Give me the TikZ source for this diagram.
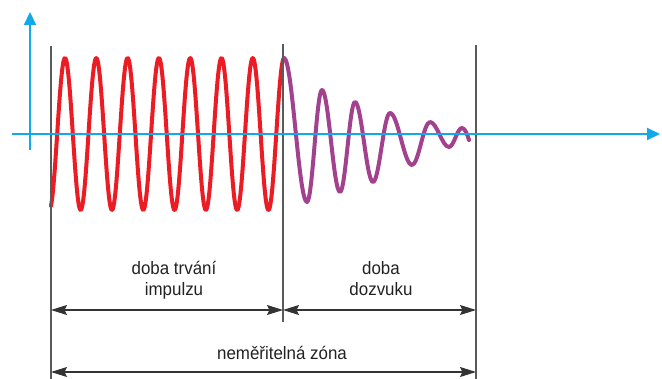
\documentclass[tikz,border=0pt]{standalone}
\usepackage{fontspec}
\setmainfont[FakeStretch=0.94]{Liberation Sans}
\usetikzlibrary{arrows.meta}
\definecolor{axisblue}{HTML}{12A9E8}
\definecolor{pulsered}{HTML}{EC1C24}
\definecolor{decaypurple}{HTML}{A2418E}
\definecolor{guide}{HTML}{5A5A5A}
\definecolor{dimline}{HTML}{333333}
\definecolor{txt}{HTML}{222222}
\begin{document}
\begin{tikzpicture}[x=1pt,y=-1pt,
  axis/.style={axisblue, line width=2pt, -{Triangle[length=13pt,width=12pt]}},
  guideline/.style={guide, line width=1.3pt},
  dimarrow/.style={dimline, line width=1.1pt,
    {Stealth[length=16pt,width=10pt,inset=2.5pt]}-{Stealth[length=16pt,width=10pt,inset=2.5pt]}},
  wave/.style={line width=4pt, line join=round, line cap=round},
  lbl/.style={anchor=base, inner sep=0pt, text=txt, font=\fontsize{18}{21}\selectfont}]
\useasboundingbox (0,0) rectangle (662,379);

% waves
\draw[wave, pulsered] plot[domain=51:284, samples=400] (\x, {134-76*cos(11.5016*(\x-65))});
\draw[wave, decaypurple] (284,58)
  .. controls +(8.37,0) and +(-8.37,0) .. (307,202)
  .. controls +(5.46,0) and +(-5.46,0) .. (322,90)
  .. controls +(6.55,0) and +(-6.55,0) .. (340,192)
  .. controls +(5.46,0) and +(-5.46,0) .. (355,102)
  .. controls +(6.55,0) and +(-6.55,0) .. (373,182)
  .. controls +(6.19,0) and +(-6.19,0) .. (390,113)
  .. controls +(8.01,0) and +(-8.01,0) .. (412,165)
  .. controls +(6.55,0) and +(-6.55,0) .. (430,122)
  .. controls +(6.92,0) and +(-6.92,0) .. (449,147)
  .. controls +(4.73,0) and +(-4.73,0) .. (462,128)
  .. controls +(3,0) and +(-1.5,-5) .. (469,140);

% guide lines
\coordinate (gLt) at (51,46);  \coordinate (gLb) at (51,379);
\coordinate (gMt) at (283,44); \coordinate (gMb) at (283,322);
\coordinate (gRt) at (476,45); \coordinate (gRb) at (476,379);
\draw[guideline] (gLt) -- (gLb);
\draw[guideline] (gMt) -- (gMb);
\draw[guideline] (gRt) -- (gRb);

% axes
\coordinate (vaxB) at (30,150); \coordinate (vaxT) at (30,12);
\coordinate (haxL) at (12,134); \coordinate (haxR) at (660,134);
\draw[axis] (vaxB) -- (vaxT);
\draw[axis] (haxL) -- (haxR);

% dimension arrows
\coordinate (a1L) at (51,310); \coordinate (a1M) at (283,310); \coordinate (a1R) at (476,310);
\coordinate (a2L) at (51,372); \coordinate (a2R) at (476,372);
\draw[dimarrow] (a1L) -- (a1M);
\draw[dimarrow] (a1M) -- (a1R);
\draw[dimarrow] (a2L) -- (a2R);

% labels
\node[lbl] (impulse) at (174,275) {\begin{tabular}[t]{@{}c@{}}doba trvání\\impulzu\end{tabular}};
\node[lbl] (decay) at (381,275) {\begin{tabular}[t]{@{}c@{}}doba\\dozvuku\end{tabular}};
\node[lbl] (zone) at (282,360) {neměřitelná zóna};
\end{tikzpicture}
\end{document}
